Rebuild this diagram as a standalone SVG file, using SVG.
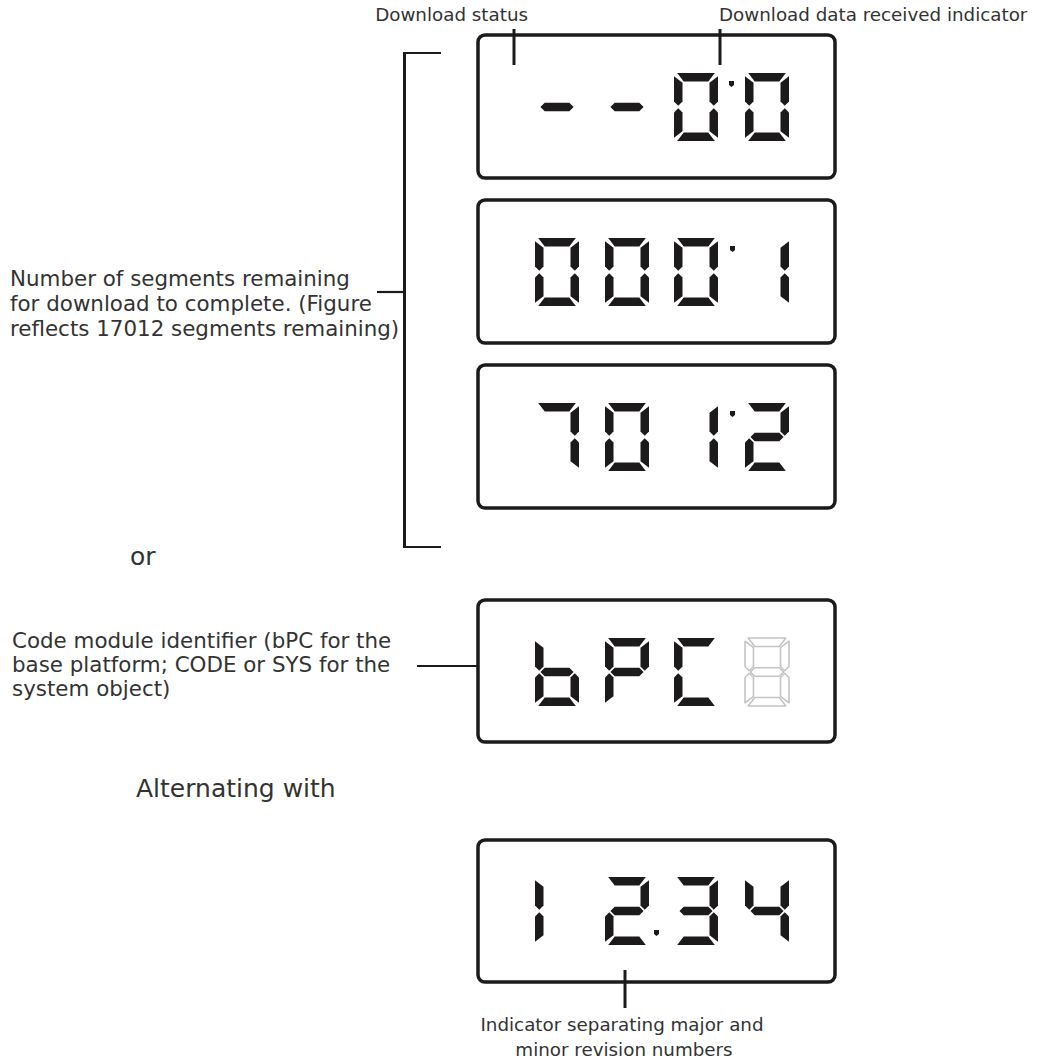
<svg xmlns="http://www.w3.org/2000/svg" xmlns:xlink="http://www.w3.org/1999/xlink" width="1039" height="1063" viewBox="0 0 1039 1063">
<style>
.bg{fill:#ffffff}
.box{fill:none;stroke:#1c1a1a;stroke-width:3.5}
.on{fill:#1c1a1a}
.off{fill:none;stroke:#c4c4c4;stroke-width:1.6;stroke-linejoin:round}
.ld{stroke:#1c1a1a;stroke-width:3;fill:none}
.tk{stroke:#1c1a1a;stroke-width:2.2;fill:none}
.lbl{font-family:"DejaVu Sans",sans-serif;fill:#333333}
.s18{font-size:18.3px}
.s21{font-size:21.4px}
.s25{font-size:25px}
</style>
<defs>
<polygon id="sa" points="3.2,0 40.8,0 34.3,8.5 9.7,8.5"/>
<polygon id="sb" points="44,3.2 44,28.55 39.75,32.8 35.5,28.55 35.5,9.7"/>
<polygon id="sc" points="35.5,39.45 39.75,35.2 44,39.45 44,64.8 35.5,58.3"/>
<polygon id="sd" points="9.7,59.5 34.3,59.5 40.8,68 3.2,68"/>
<polygon id="se" points="0,39.45 4.25,35.2 8.5,39.45 8.5,58.3 0,64.8"/>
<polygon id="sf" points="0,3.2 8.5,9.7 8.5,28.55 4.25,32.8 0,28.55"/>
<polygon id="sg" points="5.45,34 9.7,29.75 34.3,29.75 38.55,34 34.3,38.25 9.7,38.25"/>
<polygon id="dot" points="0,0 5,0 5,4 2.5,6 0,4"/>
</defs>
<rect class="bg" x="0" y="0" width="1039" height="1063"/>

<g id="connectors">
<line class="ld" x1="514" y1="29" x2="514" y2="65"/>
<line class="ld" x1="720" y1="29" x2="720" y2="65"/>
<line class="ld" x1="404.5" y1="52" x2="404.5" y2="548"/>
<line class="tk" x1="404" y1="53" x2="441" y2="53"/>
<line class="tk" x1="404" y1="547" x2="441" y2="547"/>
<line class="tk" x1="377" y1="292" x2="404" y2="292"/>
<line class="tk" x1="417" y1="666" x2="478" y2="666"/>
<line class="ld" x1="625" y1="970" x2="625" y2="1008"/>
</g>

<g id="label-download-status"><text class="lbl s18" x="528" y="21" text-anchor="end">Download status</text></g>
<g id="label-data-received"><text class="lbl s18" x="719" y="21">Download data received indicator</text></g>
<g id="label-segments">
<text class="lbl s21" x="10" y="286">Number of segments remaining</text>
<text class="lbl s21" x="10" y="311">for download to complete. (Figure</text>
<text class="lbl s21" x="10" y="336">reflects 17012 segments remaining)</text>
</g>
<g id="label-or"><text class="lbl s25" x="130" y="565">or</text></g>
<g id="label-code">
<text class="lbl s21" x="12" y="648">Code module identifier (bPC for the</text>
<text class="lbl s21" x="12" y="672">base platform; CODE or SYS for the</text>
<text class="lbl s21" x="12" y="696">system object)</text>
</g>
<g id="label-alternating"><text class="lbl s25" x="136" y="797">Alternating with</text></g>
<g id="label-indicator">
<text class="lbl s18" x="622" y="1031" text-anchor="middle">Indicator separating major and</text>
<text class="lbl s18" x="624" y="1056" text-anchor="middle">minor revision numbers</text>
</g>

<g id="display-1">
<rect class="box" x="478" y="35" width="357" height="143" rx="7"/>
<g class="on" transform="translate(535,73)"><use xlink:href="#sg"/></g>
<g class="on" transform="translate(605,73)"><use xlink:href="#sg"/></g>
<g class="on" transform="translate(674,73)"><use xlink:href="#sa"/><use xlink:href="#sb"/><use xlink:href="#sc"/><use xlink:href="#sd"/><use xlink:href="#se"/><use xlink:href="#sf"/></g>
<g class="on" transform="translate(745,73)"><use xlink:href="#sa"/><use xlink:href="#sb"/><use xlink:href="#sc"/><use xlink:href="#sd"/><use xlink:href="#se"/><use xlink:href="#sf"/></g>
<use class="on" xlink:href="#dot" x="729" y="81"/>
</g>

<g id="display-2">
<rect class="box" x="478" y="200" width="357" height="143" rx="7"/>
<g class="on" transform="translate(535,238)"><use xlink:href="#sa"/><use xlink:href="#sb"/><use xlink:href="#sc"/><use xlink:href="#sd"/><use xlink:href="#se"/><use xlink:href="#sf"/></g>
<g class="on" transform="translate(605,238)"><use xlink:href="#sa"/><use xlink:href="#sb"/><use xlink:href="#sc"/><use xlink:href="#sd"/><use xlink:href="#se"/><use xlink:href="#sf"/></g>
<g class="on" transform="translate(674,238)"><use xlink:href="#sa"/><use xlink:href="#sb"/><use xlink:href="#sc"/><use xlink:href="#sd"/><use xlink:href="#se"/><use xlink:href="#sf"/></g>
<g class="on" transform="translate(745,238)"><use xlink:href="#sb"/><use xlink:href="#sc"/></g>
<use class="on" xlink:href="#dot" x="730" y="246"/>
</g>

<g id="display-3">
<rect class="box" x="478" y="365" width="357" height="143" rx="7"/>
<g class="on" transform="translate(535,403)"><use xlink:href="#sa"/><use xlink:href="#sb"/><use xlink:href="#sc"/></g>
<g class="on" transform="translate(605,403)"><use xlink:href="#sa"/><use xlink:href="#sb"/><use xlink:href="#sc"/><use xlink:href="#sd"/><use xlink:href="#se"/><use xlink:href="#sf"/></g>
<g class="on" transform="translate(674,403)"><use xlink:href="#sb"/><use xlink:href="#sc"/></g>
<g class="on" transform="translate(745,403)"><use xlink:href="#sa"/><use xlink:href="#sb"/><use xlink:href="#sg"/><use xlink:href="#se"/><use xlink:href="#sd"/></g>
<use class="on" xlink:href="#dot" x="730" y="411"/>
</g>

<g id="display-4">
<rect class="box" x="478" y="600" width="357" height="142" rx="7"/>
<g class="on" transform="translate(535,638)"><use xlink:href="#sf"/><use xlink:href="#se"/><use xlink:href="#sd"/><use xlink:href="#sc"/><use xlink:href="#sg"/></g>
<g class="on" transform="translate(605,638)"><use xlink:href="#sa"/><use xlink:href="#sb"/><use xlink:href="#sf"/><use xlink:href="#sg"/><use xlink:href="#se"/></g>
<g class="on" transform="translate(674,638)"><use xlink:href="#sa"/><use xlink:href="#sf"/><use xlink:href="#se"/><use xlink:href="#sd"/></g>
<g class="off" transform="translate(745,638)"><use xlink:href="#sa"/><use xlink:href="#sb"/><use xlink:href="#sc"/><use xlink:href="#sd"/><use xlink:href="#se"/><use xlink:href="#sf"/><use xlink:href="#sg"/></g>
</g>

<g id="display-5">
<rect class="box" x="478" y="840" width="357" height="142" rx="7"/>
<g class="on" transform="translate(535,877)"><use xlink:href="#se"/><use xlink:href="#sf"/></g>
<g class="on" transform="translate(605,877)"><use xlink:href="#sa"/><use xlink:href="#sb"/><use xlink:href="#sg"/><use xlink:href="#se"/><use xlink:href="#sd"/></g>
<g class="on" transform="translate(674,877)"><use xlink:href="#sa"/><use xlink:href="#sb"/><use xlink:href="#sg"/><use xlink:href="#sc"/><use xlink:href="#sd"/></g>
<g class="on" transform="translate(745,877)"><use xlink:href="#sf"/><use xlink:href="#sg"/><use xlink:href="#sb"/><use xlink:href="#sc"/></g>
<use class="on" xlink:href="#dot" x="654" y="930"/>
</g>
</svg>
